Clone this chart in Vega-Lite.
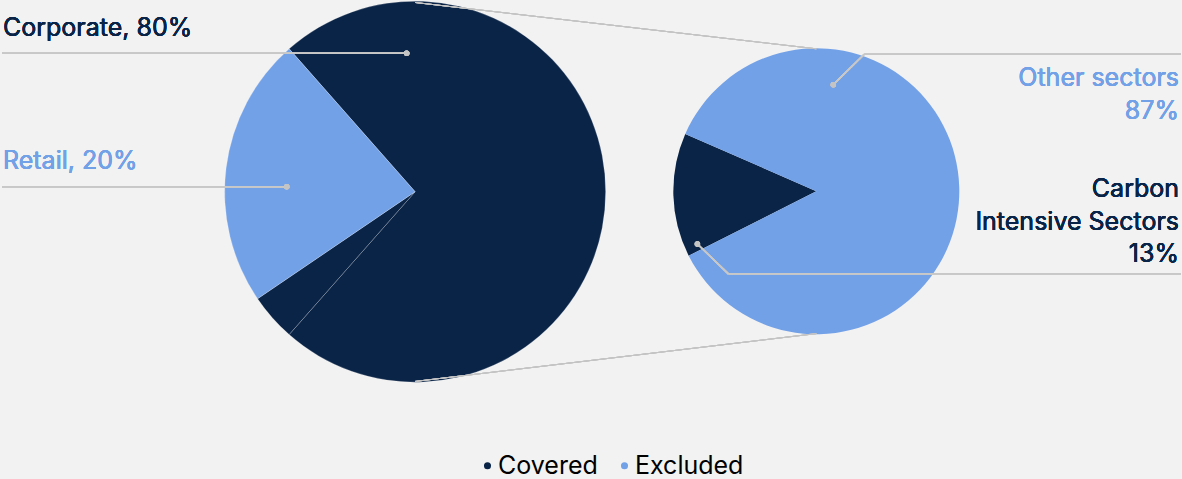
{
  "$schema": "https://vega.github.io/schema/vega-lite/v6.json",
  "width": 1182,
  "height": 479,
  "autosize": {"type": "fit", "contains": "padding"},
  "padding": 0,
  "background": "#f2f2f2",
  "view": {"stroke": null},
  "config": {"font": "Inter", "axis": {"disable": true}},
  "datasets": {
    "pies": [
      {"pie": "main", "part": "Corporate (detailed)", "status": "Covered", "value": 73, "order": 1},
      {"pie": "main", "part": "Corporate (other)", "status": "Covered", "value": 4, "order": 2},
      {"pie": "main", "part": "Retail", "status": "Excluded", "value": 23, "order": 3},
      {"pie": "detail", "part": "Carbon Intensive Sectors", "status": "Covered", "value": 14, "order": 1},
      {"pie": "detail", "part": "Other sectors", "status": "Excluded", "value": 86, "order": 2}
    ]
  },
  "data": {"name": "pies"},
  "layer": [
    {
      "transform": [{"filter": "datum.pie === 'main'"}],
      "mark": {"type": "arc", "outerRadius": 190.5, "stroke": "#ffffff", "strokeWidth": 0.6, "strokeOpacity": 0.35},
      "encoding": {
        "x": {"datum": 415.5, "type": "quantitative", "scale": {"domain": [0, 1182], "nice": false, "zero": false}, "axis": null},
        "y": {"datum": 190.5, "type": "quantitative", "scale": {"domain": [0, 479], "nice": false, "zero": false, "reverse": true}, "axis": null},
        "theta": {"field": "value", "type": "quantitative", "stack": true, "scale": {"range": [5.5606, 11.8438]}},
        "order": {"field": "order", "type": "quantitative"},
        "color": {
          "field": "status", "type": "nominal",
          "scale": {"domain": ["Covered", "Excluded"], "range": ["#0a2447", "#73a1e7"]},
          "legend": {
            "title": null, "orient": "none", "direction": "horizontal",
            "legendX": 475, "legendY": 451, "padding": 0,
            "symbolType": "circle", "symbolSize": 50, "symbolStrokeWidth": 0,
            "labelFontSize": 25, "labelFont": "Inter", "labelFontWeight": 400,
            "labelOffset": -2, "columnPadding": 14,
            "encode": {"labels": {"update": {"fill": {"signal": "datum.value === 'Covered' ? '#0a2447' : '#73a1e7'"}}}}
          }
        }
      }
    },
    {
      "transform": [{"filter": "datum.pie === 'detail'"}],
      "mark": {"type": "arc", "outerRadius": 143},
      "encoding": {
        "x": {"datum": 817, "type": "quantitative"},
        "y": {"datum": 190, "type": "quantitative"},
        "theta": {"field": "value", "type": "quantitative", "stack": true, "scale": {"range": [4.2446, 10.5278]}},
        "order": {"field": "order", "type": "quantitative"},
        "color": {"field": "status", "type": "nominal"}
      }
    },
    {
      "mark": {"type": "rule", "stroke": "#c4c4c4", "strokeWidth": 1},
      "encoding": {"x": {"datum": 415.5}, "y": {"datum": 0.5}, "x2": {"datum": 817}, "y2": {"datum": 47}}
    },
    {
      "mark": {"type": "rule", "stroke": "#c4c4c4", "strokeWidth": 1},
      "encoding": {"x": {"datum": 415.5}, "y": {"datum": 381}, "x2": {"datum": 817}, "y2": {"datum": 333}}
    },
    {
      "mark": {"type": "rule", "stroke": "#c8c8c8", "strokeWidth": 1.5},
      "encoding": {"x": {"datum": 2}, "y": {"datum": 51.5}, "x2": {"datum": 407}, "y2": {"datum": 51.5}}
    },
    {
      "mark": {"type": "rule", "stroke": "#c8c8c8", "strokeWidth": 1.5},
      "encoding": {"x": {"datum": 2}, "y": {"datum": 185.5}, "x2": {"datum": 287}, "y2": {"datum": 185.5}}
    },
    {
      "mark": {"type": "rule", "stroke": "#c8c8c8", "strokeWidth": 1.5},
      "encoding": {"x": {"datum": 1182}, "y": {"datum": 52.5}, "x2": {"datum": 865}, "y2": {"datum": 52.5}}
    },
    {
      "mark": {"type": "rule", "stroke": "#c8c8c8", "strokeWidth": 1.5},
      "encoding": {"x": {"datum": 865}, "y": {"datum": 52.5}, "x2": {"datum": 834}, "y2": {"datum": 83}}
    },
    {
      "mark": {"type": "rule", "stroke": "#c8c8c8", "strokeWidth": 1.5},
      "encoding": {"x": {"datum": 1182}, "y": {"datum": 273}, "x2": {"datum": 729}, "y2": {"datum": 273}}
    },
    {
      "mark": {"type": "rule", "stroke": "#c8c8c8", "strokeWidth": 1.5},
      "encoding": {"x": {"datum": 729}, "y": {"datum": 273}, "x2": {"datum": 698}, "y2": {"datum": 243}}
    },
    {
      "mark": {"type": "point", "filled": true, "size": 30, "color": "#c4c4c4", "opacity": 1},
      "encoding": {"x": {"datum": 407}, "y": {"datum": 51.5}}
    },
    {
      "mark": {"type": "point", "filled": true, "size": 30, "color": "#c4c4c4", "opacity": 1},
      "encoding": {"x": {"datum": 287}, "y": {"datum": 185.5}}
    },
    {
      "mark": {"type": "point", "filled": true, "size": 30, "color": "#c4c4c4", "opacity": 1},
      "encoding": {"x": {"datum": 834}, "y": {"datum": 83}}
    },
    {
      "mark": {"type": "point", "filled": true, "size": 30, "color": "#c4c4c4", "opacity": 1},
      "encoding": {"x": {"datum": 698}, "y": {"datum": 243}}
    },
    {
      "mark": {"type": "text", "align": "left", "baseline": "alphabetic", "fontSize": 25, "fontWeight": 400, "color": "#0a2447"},
      "encoding": {"x": {"datum": 3}, "y": {"datum": 34}, "text": {"value": "Corporate, 80%"}}
    },
    {
      "mark": {"type": "text", "align": "left", "baseline": "alphabetic", "fontSize": 25, "fontWeight": 400, "color": "#73a1e7"},
      "encoding": {"x": {"datum": 3}, "y": {"datum": 168}, "text": {"value": "Retail, 20%"}}
    },
    {
      "mark": {"type": "text", "align": "right", "baseline": "alphabetic", "fontSize": 25, "fontWeight": 400, "lineHeight": 33, "color": "#73a1e7"},
      "encoding": {"x": {"datum": 1180}, "y": {"datum": 84}, "text": {"value": ["Other sectors", "87%"]}}
    },
    {
      "mark": {"type": "text", "align": "right", "baseline": "alphabetic", "fontSize": 25, "fontWeight": 400, "lineHeight": 32.5, "color": "#0a2447"},
      "encoding": {"x": {"datum": 1180}, "y": {"datum": 196}, "text": {"value": ["Carbon", "Intensive Sectors", "13%"]}}
    }
  ],
  "resolve": {"scale": {"theta": "independent"}}
}
